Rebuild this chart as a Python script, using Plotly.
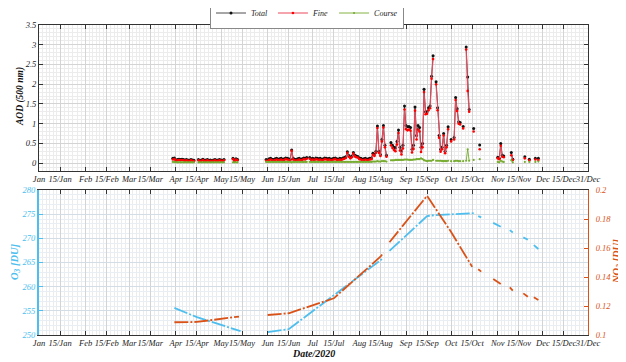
import plotly.graph_objects as go
import pandas as pd

# ---------------- AOD data (daily) ----------------
seg_starts = ["2020-03-30", "2020-04-16", "2020-05-09", "2020-05-31", "2020-06-29", "2020-08-22"]

seg_total = [
    [0.12, 0.13, 0.08, 0.09, 0.10, 0.09, 0.10, 0.09, 0.08, 0.09, 0.08, 0.07, 0.09, 0.08, 0.07],
    [0.09, 0.06, 0.08, 0.10, 0.07, 0.08, 0.09, 0.07, 0.08, 0.06, 0.08, 0.09, 0.07, 0.08, 0.09, 0.08, 0.07, 0.09],
    [0.12, 0.07, 0.11, 0.09],
    [0.09, 0.08, 0.11, 0.12, 0.10, 0.09, 0.11, 0.12, 0.10, 0.11, 0.12, 0.10, 0.11, 0.13, 0.12, 0.11, 0.10, 0.33,
     0.12, 0.10, 0.09, 0.11, 0.12, 0.10, 0.11, 0.13, 0.12, 0.14],
    [0.14, 0.11, 0.12, 0.10, 0.13, 0.12, 0.11, 0.12, 0.10, 0.11, 0.13, 0.12, 0.11, 0.12, 0.10, 0.11, 0.12, 0.13,
     0.11, 0.10, 0.12, 0.11, 0.13, 0.14, 0.16, 0.29, 0.19, 0.15, 0.18, 0.27, 0.20, 0.18, 0.17, 0.13, 0.12, 0.10,
     0.11, 0.12, 0.10, 0.11, 0.12, 0.13, 0.25, 0.22, 0.30, 0.94, 0.30, 0.22, 0.60, 0.95, 0.45, 0.20],
    [0.52, 0.45, 0.40, 0.38, 0.55, 0.84, 0.40, 0.30, 0.45, 1.45, 0.95, 0.92, 0.93, 0.90, 0.35, 0.45, 1.42, 0.70,
     0.95, 0.90, 0.40, 0.50, 1.87, 1.30, 1.30, 1.40, 1.45, 2.20, 2.72, None, 2.06, 1.40, 0.70, 0.35, 0.40, 0.75,
     0.30, 0.45, 0.92],
]
seg_fine = [
    [0.09, 0.10, 0.06, 0.07, 0.08, 0.07, 0.08, 0.07, 0.06, 0.07, 0.06, 0.05, 0.07, 0.06, 0.05],
    [0.07, 0.04, 0.06, 0.08, 0.05, 0.06, 0.07, 0.05, 0.06, 0.04, 0.06, 0.07, 0.05, 0.06, 0.07, 0.06, 0.05, 0.07],
    [0.10, 0.05, 0.09, 0.07],
    [0.06, 0.05, 0.08, 0.09, 0.07, 0.06, 0.08, 0.09, 0.07, 0.08, 0.09, 0.07, 0.08, 0.10, 0.09, 0.08, 0.07, 0.31,
     0.09, 0.07, 0.06, 0.08, 0.09, 0.07, 0.08, 0.10, 0.09, 0.11],
    [0.11, 0.08, 0.09, 0.07, 0.10, 0.09, 0.08, 0.09, 0.07, 0.08, 0.10, 0.09, 0.08, 0.09, 0.07, 0.08, 0.09, 0.10,
     0.08, 0.07, 0.09, 0.08, 0.10, 0.11, 0.13, 0.26, 0.16, 0.12, 0.15, 0.24, 0.17, 0.15, 0.14, 0.10, 0.09, 0.07,
     0.08, 0.09, 0.07, 0.08, 0.09, 0.10, 0.21, 0.18, 0.26, 0.89, 0.26, 0.18, 0.55, 0.90, 0.40, 0.16],
    [0.45, 0.38, 0.33, 0.30, 0.47, 0.76, 0.32, 0.22, 0.37, 1.36, 0.86, 0.83, 0.85, 0.82, 0.27, 0.36, 1.33, 0.60,
     0.85, 0.80, 0.28, 0.40, 1.80, 1.24, 1.25, 1.34, 1.39, 2.14, 2.64, None, 2.00, 1.34, 0.64, 0.29, 0.35, 0.70,
     0.25, 0.40, 0.86],
]
seg_coarse = [
    [0.03, 0.03, 0.02, 0.02, 0.02, 0.02, 0.02, 0.02, 0.02, 0.02, 0.02, 0.02, 0.02, 0.02, 0.02],
    [0.02, 0.02, 0.02, 0.02, 0.02, 0.02, 0.02, 0.02, 0.02, 0.02, 0.02, 0.02, 0.02, 0.02, 0.02, 0.02, 0.02, 0.02],
    [0.02, 0.02, 0.02, 0.02],
    [0.03, 0.03, 0.03, 0.03, 0.03, 0.03, 0.03, 0.03, 0.03, 0.03, 0.03, 0.03, 0.03, 0.03, 0.03, 0.03, 0.03, 0.02,
     0.03, 0.03, 0.03, 0.03, 0.03, 0.03, 0.03, 0.03, 0.03, 0.03],
    [0.03, 0.03, 0.03, 0.03, 0.03, 0.03, 0.03, 0.03, 0.03, 0.03, 0.03, 0.03, 0.03, 0.03, 0.03, 0.03, 0.03, 0.03,
     0.03, 0.03, 0.03, 0.03, 0.03, 0.03, 0.03, 0.03, 0.03, 0.03, 0.03, 0.03, 0.03, 0.03, 0.03, 0.03, 0.03, 0.03,
     0.03, 0.03, 0.03, 0.03, 0.03, 0.03, 0.04, 0.04, 0.04, 0.05, 0.04, 0.04, 0.05, 0.05, 0.05, 0.04],
    [0.07, 0.07, 0.07, 0.08, 0.08, 0.08, 0.08, 0.08, 0.08, 0.09, 0.09, 0.09, 0.08, 0.08, 0.08, 0.09, 0.09, 0.10,
     0.10, 0.10, 0.12, 0.10, 0.07, 0.06, 0.05, 0.06, 0.06, 0.06, 0.08, None, 0.06, 0.06, 0.06, 0.06, 0.05, 0.05,
     0.05, 0.05, 0.06],
]

late_dates = ["2020-10-01", "2020-10-03", "2020-10-04", "2020-10-05", "2020-10-06", "2020-10-07", "2020-10-09",
              "2020-10-11", "2020-10-12", "2020-10-13", "2020-10-16", "2020-10-20", "2020-11-01", "2020-11-02",
              "2020-11-03", "2020-11-04", "2020-11-05", "2020-11-10", "2020-11-11", "2020-11-19", "2020-11-22",
              "2020-11-26", "2020-11-28"]
late_total = [0.60, 0.65, 1.66, 1.38, 1.05, 1.03, 0.93, 2.94, 2.18, 1.36, 0.88, 0.46, 0.15, 0.12,
              0.50, 0.20, 0.18, 0.27, 0.10, 0.16, 0.10, 0.12, 0.12]
late_fine = [0.55, 0.60, 1.60, 1.32, 1.00, 0.98, 0.88, 2.88, 1.83, 1.30, 0.80, 0.35, 0.12, 0.10,
             0.44, 0.16, 0.15, 0.20, 0.08, 0.12, 0.07, 0.09, 0.08]
late_coarse = [0.05, 0.05, 0.06, 0.06, 0.05, 0.05, 0.05, 0.06, 0.35, 0.06, 0.08, 0.10, 0.03, 0.02,
               0.06, 0.04, 0.03, 0.07, 0.02, 0.03, 0.03, 0.03, 0.04]

# ---------------- O3 / NO2 ----------------
o3_dates = ["2020-03-31", "2020-04-15", "2020-05-14", None,
            "2020-06-01", "2020-06-15", "2020-08-16", None,
            "2020-08-21", "2020-09-15", "2020-09-20", "2020-10-14", "2020-10-16", None,
            "2020-10-19", "2020-10-21", None, "2020-10-29", "2020-11-03", None,
            "2020-11-09", "2020-11-11", None, "2020-11-18", "2020-11-21", None,
            "2020-11-25", "2020-11-28"]
o3_vals = [255.6, 253.7, 250.8, None,
           250.6, 251.2, 265.7, None,
           267.4, 274.6, 274.8, 275.3, 275.2, None,
           274.6, 274.35, None, 273.2, 272.4, None,
           271.7, 271.2, None, 270.2, 269.7, None,
           268.6, 267.8]

no2_dates = ["2020-03-31", "2020-04-15", "2020-05-13", None,
             "2020-06-01", "2020-06-15", "2020-07-15", "2020-08-15", "2020-08-17", None,
             "2020-08-21", "2020-09-15", "2020-10-01", "2020-10-15", None,
             "2020-10-19", "2020-10-21", None, "2020-10-29", "2020-11-03", None,
             "2020-11-09", "2020-11-11", None, "2020-11-18", "2020-11-21", None,
             "2020-11-25", "2020-11-28"]
no2_vals = [0.1088, 0.1090, 0.1127, None,
            0.1138, 0.1150, 0.1253, 0.1540, 0.1567, None,
            0.1640, 0.1960, 0.1710, 0.1470, None,
            0.1453, 0.1437, None, 0.1386, 0.1352, None,
            0.1329, 0.1306, None, 0.1287, 0.1264, None,
            0.1260, 0.1241]

tick_dates = ["2020-01-01", "2020-01-15", "2020-02-01", "2020-02-15", "2020-03-01", "2020-03-15",
              "2020-04-01", "2020-04-15", "2020-05-01", "2020-05-15", "2020-06-01", "2020-06-15",
              "2020-07-01", "2020-07-15", "2020-08-01", "2020-08-15", "2020-09-01", "2020-09-15",
              "2020-10-01", "2020-10-15", "2020-11-01", "2020-11-15", "2020-12-01", "2020-12-15",
              "2020-12-31"]
tick_text = ["Jan", "15/Jan", "Feb", "15/Feb", "Mar", "15/Mar", "Apr", "15/Apr", "May", "15/May",
             "Jun", "15/Jun", "Jul", "15/Jul", "Aug", "15/Aug", "Sep", "15/Sep", "Oct", "15/Oct",
             "Nov", "15/Nov", "Dec", "15/Dec", "31/Dec"]

# ---------------- assemble series ----------------
rows = []
for start, t, f, c in zip(seg_starts, seg_total, seg_fine, seg_coarse):
    ds = pd.date_range(start, periods=len(t), freq="D")
    rows += list(zip(ds, t, f, c))
rows += list(zip(pd.to_datetime(late_dates), late_total, late_fine, late_coarse))
rows = sorted([r for r in rows if r[1] is not None], key=lambda r: r[0])

X, YT, YF, YC = [], [], [], []
prev = None
for d, t, f, c in rows:
    if prev is not None and (d - prev).days > 1:
        X.append(None); YT.append(None); YF.append(None); YC.append(None)
    X.append(d); YT.append(t); YF.append(f); YC.append(c)
    prev = d

SERIF = "Liberation Serif"
BLUE = "#4DBEEE"
ORANGE = "#D95319"
GREEN = "#77AC30"
RED_LINE = "#EC4A5C"

fig = go.Figure()
fig.add_trace(go.Scatter(x=X, y=YT, mode="lines+markers", name="Total",
                         line=dict(color="#222222", width=0.8),
                         marker=dict(color="#111111", size=3), xaxis="x", yaxis="y"))
fig.add_trace(go.Scatter(x=X, y=YF, mode="lines+markers", name="Fine",
                         line=dict(color=RED_LINE, width=1.1),
                         marker=dict(color="#ff0000", size=2.6), xaxis="x", yaxis="y"))
fig.add_trace(go.Scatter(x=X, y=YC, mode="lines+markers", name="Course",
                         line=dict(color=GREEN, width=0.9),
                         marker=dict(color=GREEN, size=2.2), xaxis="x", yaxis="y"))

DASH = "14px,2px,2px,2px"
fig.add_trace(go.Scatter(x=o3_dates, y=o3_vals, mode="lines", showlegend=False,
                         line=dict(color=BLUE, width=1.8, dash=DASH), xaxis="x2", yaxis="y2"))
fig.add_trace(go.Scatter(x=no2_dates, y=no2_vals, mode="lines", showlegend=False,
                         line=dict(color=ORANGE, width=1.8, dash=DASH), xaxis="x2", yaxis="y3"))

# minor grid positions: 6 subdivisions of each labelled interval
td = pd.to_datetime(tick_dates)
minor_vals = []
for a, b in zip(td[:-1], td[1:]):
    for k in range(1, 6):
        minor_vals.append(a + (b - a) * k / 6)

TICK_SIZE = 8.5
tickfont = dict(family=SERIF, size=TICK_SIZE, color="#222222", style="italic")

def xaxis_cfg(anchor):
    return dict(type="date", range=["2020-01-01", "2020-12-31"], anchor=anchor,
                tickmode="array", tickvals=tick_dates, ticktext=tick_text, tickangle=0,
                ticks="inside", ticklen=4, tickcolor="#333333", tickfont=tickfont,
                showline=True, linecolor="#333333", linewidth=1, mirror="ticks",
                showgrid=True, gridcolor="#d4d4d4", gridwidth=1, zeroline=False,
                automargin=False,
                minor=dict(tickmode="array", tickvals=minor_vals, showgrid=True,
                           gridcolor="#ececec", ticks=""))

# page is offset by the 8px default body margin, so the figure is laid out 8px up/left
top_dom = [(335 - 171) / 310, 1.0]
bot_dom = [0.0, (335 - 190) / 310]

def ann(text, px, py, size, color, angle=0):
    return dict(text=text, x=(px - 39) / 549, y=(335 - py) / 310, xref="paper", yref="paper",
                xanchor="center", yanchor="middle", showarrow=False, textangle=angle,
                font=dict(family=SERIF, size=size, color=color, style="italic", weight="bold"))

fig.update_layout(
    width=618, height=354,
    margin=dict(l=31, r=38, t=17, b=27, autoexpand=False),
    paper_bgcolor="white", plot_bgcolor="white",
    font=dict(family=SERIF, size=10, color="#222222"),
    xaxis=xaxis_cfg("y"),
    xaxis2=xaxis_cfg("y2"),
    yaxis=dict(domain=top_dom, range=[-0.2, 3.5], anchor="x", automargin=False,
               tickmode="array", tickvals=[0, 0.5, 1, 1.5, 2, 2.5, 3, 3.5],
               ticktext=["0", "0.5", "1", "1.5", "2", "2.5", "3", "3.5"],
               ticks="inside", ticklen=4, tickcolor="#333333", tickfont=tickfont,
               showline=True, linecolor="#333333", linewidth=1, mirror="ticks",
               showgrid=True, gridcolor="#d4d4d4", zeroline=False,
               minor=dict(dtick=0.1, showgrid=True, gridcolor="#ececec", ticks="")),
    yaxis2=dict(domain=bot_dom, range=[250, 280], anchor="x2", automargin=False,
                tickmode="array", tickvals=[250, 255, 260, 265, 270, 275, 280],
                ticks="inside", ticklen=4, tickcolor=BLUE,
                tickfont=dict(family=SERIF, size=TICK_SIZE, color=BLUE, style="italic"),
                showline=True, linecolor=BLUE, linewidth=2,
                showgrid=True, gridcolor="#d3dde6", zeroline=False,
                minor=dict(dtick=1, showgrid=True, gridcolor="#e8eef3", ticks="")),
    yaxis3=dict(domain=bot_dom, range=[0.1, 0.2], anchor="x2", overlaying="y2", side="right",
                automargin=False, ticklabelstandoff=5,
                tickmode="array", tickvals=[0.1, 0.12, 0.14, 0.16, 0.18, 0.2],
                ticktext=["0.1", "0.12", "0.14", "0.16", "0.18", "0.2"],
                ticks="inside", ticklen=4, tickcolor=ORANGE,
                tickfont=dict(family=SERIF, size=TICK_SIZE, color=ORANGE, style="italic"),
                showline=True, linecolor=ORANGE, linewidth=1,
                showgrid=False, zeroline=False),
    legend=dict(orientation="h", x=(307 - 39) / 549, xanchor="center",
                y=(335 - 13) / 310, yanchor="middle",
                bgcolor="white", bordercolor="#888888", borderwidth=1,
                font=dict(family=SERIF, size=8, color="#222222", style="italic"),
                tracegroupgap=0, itemwidth=30),
    annotations=[
        ann("AOD (500 nm)", 20, 97, 9.5, "#111111", -90),
        ann("O<sub>3</sub> [DU]", 15, 262, 10.5, BLUE, -90),
        ann("NO<sub>2</sub> [DU]", 617, 262, 10.5, ORANGE, -90),
        ann("Date/2020", 313, 353, 10, "#111111"),
    ],
)

fig.write_html("out.html")
